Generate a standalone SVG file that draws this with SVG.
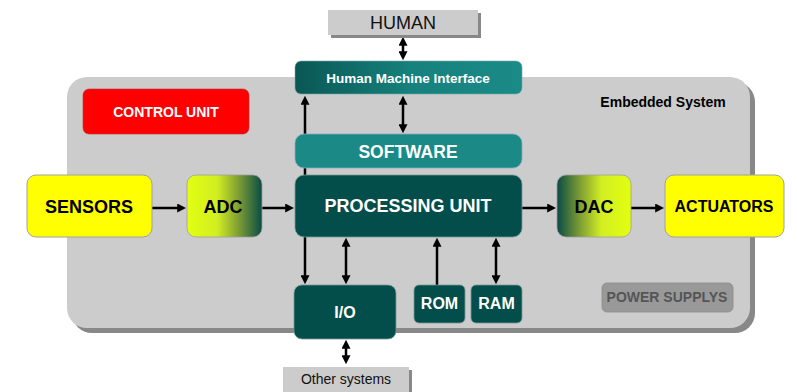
<svg xmlns="http://www.w3.org/2000/svg" width="797" height="392" viewBox="0 0 797 392">
  <style>
    text { font-family: "Liberation Sans", Arial, sans-serif; text-anchor: middle; }
    .b { font-weight: bold; }
    .w { fill: #ffffff; }
    .k { fill: #000000; }
    .dark { fill: #034d4a; stroke: #7a9a98; stroke-width: 0.8; }
    .teal { fill: #1b8a86; stroke: #8ab; stroke-width: 0.8; }
    .yellow { fill: #ffff00; stroke: #a0a0a0; stroke-width: 1; }
    .grey { fill: #cccccc; }
    .shadow { fill: #888888; }
    .link { stroke: #000; stroke-width: 2.5; fill: none; }
  </style>
  <defs>
    <marker id="ah" viewBox="0 0 10 10" refX="2" refY="5" markerWidth="9" markerHeight="9" markerUnits="userSpaceOnUse" orient="auto-start-reverse">
      <path d="M0,0 L10,5 L0,10 z" fill="#000"/>
    </marker>
    <linearGradient id="hmiGrad" x1="0" y1="0" x2="1" y2="0">
      <stop offset="0" stop-color="#0a5754"/>
      <stop offset="0.5" stop-color="#16807c"/>
      <stop offset="1" stop-color="#1b8b88"/>
    </linearGradient>
    <linearGradient id="adcGrad" x1="0" y1="0" x2="1" y2="0">
      <stop offset="0" stop-color="#e2ff10"/>
      <stop offset="0.4" stop-color="#d2ee22"/>
      <stop offset="0.7" stop-color="#7a9a35"/>
      <stop offset="1" stop-color="#084c45"/>
    </linearGradient>
    <linearGradient id="dacGrad" x1="1" y1="0" x2="0" y2="0">
      <stop offset="0" stop-color="#e2ff10"/>
      <stop offset="0.4" stop-color="#d2ee22"/>
      <stop offset="0.7" stop-color="#7a9a35"/>
      <stop offset="1" stop-color="#084c45"/>
    </linearGradient>
  </defs>

  <!-- embedded system frame -->
  <g id="embedded-system">
    <rect class="shadow" x="72" y="82" width="683" height="251" rx="20"/>
    <rect class="grey" x="67" y="77" width="683" height="251" rx="20"/>
    <text class="b k" x="663" y="106.5" font-size="14">Embedded System</text>
  </g>

  <!-- connectors -->
  <g id="connectors">
    <line class="link" x1="403" y1="44" x2="403" y2="53" marker-start="url(#ah)" marker-end="url(#ah)"/>
    <line class="link" x1="305" y1="175" x2="305" y2="103" marker-end="url(#ah)"/>
    <line class="link" x1="403" y1="103" x2="403" y2="126" marker-start="url(#ah)" marker-end="url(#ah)"/>
    <line class="link" x1="152" y1="208" x2="179" y2="208" marker-end="url(#ah)"/>
    <line class="link" x1="262" y1="208" x2="287" y2="208" marker-end="url(#ah)"/>
    <line class="link" x1="522" y1="208" x2="549" y2="208" marker-end="url(#ah)"/>
    <line class="link" x1="631" y1="208" x2="657" y2="208" marker-end="url(#ah)"/>
    <line class="link" x1="305" y1="237" x2="305" y2="277" marker-end="url(#ah)"/>
    <line class="link" x1="346" y1="245" x2="346" y2="277" marker-start="url(#ah)" marker-end="url(#ah)"/>
    <line class="link" x1="437" y1="285" x2="437" y2="245" marker-end="url(#ah)"/>
    <line class="link" x1="496" y1="245" x2="496" y2="277" marker-start="url(#ah)" marker-end="url(#ah)"/>
    <line class="link" x1="346" y1="347" x2="346" y2="357" marker-start="url(#ah)" marker-end="url(#ah)"/>
  </g>

  <g id="human">
    <rect class="shadow" x="331" y="13" width="150" height="25"/>
    <rect class="grey" x="328" y="10" width="150" height="25"/>
    <text x="403" y="29" font-size="18" fill="#111">HUMAN</text>
  </g>

  <g id="hmi">
    <rect x="295" y="61" width="227" height="33" rx="6" fill="url(#hmiGrad)" stroke="#7aa" stroke-width="0.6"/>
    <text class="b w" x="408" y="83" font-size="13.5">Human Machine Interface</text>
  </g>

  <g id="control-unit">
    <rect x="83" y="89" width="166" height="45" rx="6" fill="#ff0000" stroke="#b33" stroke-width="0.6"/>
    <text class="b w" x="166" y="116.7" font-size="14">CONTROL UNIT</text>
  </g>

  <g id="software">
    <rect class="teal" x="295" y="134" width="227" height="34" rx="9"/>
    <text class="b w" x="408" y="158" font-size="17.5">SOFTWARE</text>
  </g>

  <g id="processing-unit">
    <rect class="dark" x="295" y="175" width="227" height="62" rx="9"/>
    <text class="b w" x="408" y="212" font-size="18">PROCESSING UNIT</text>
  </g>

  <g id="sensors">
    <rect class="yellow" x="27" y="175" width="125" height="62" rx="9"/>
    <text class="b k" x="89" y="212.5" font-size="18">SENSORS</text>
  </g>

  <g id="adc">
    <rect x="187" y="175" width="75" height="62" rx="9" fill="url(#adcGrad)" stroke="#a0a0a0" stroke-width="0.8"/>
    <text class="b k" x="223" y="212.5" font-size="18">ADC</text>
  </g>

  <g id="dac">
    <rect x="557" y="175" width="74" height="62" rx="9" fill="url(#dacGrad)" stroke="#a0a0a0" stroke-width="0.8"/>
    <text class="b k" x="594" y="212.5" font-size="18">DAC</text>
  </g>

  <g id="actuators">
    <rect class="yellow" x="665" y="175" width="119" height="62" rx="9"/>
    <text class="b k" x="724" y="211.5" font-size="16">ACTUATORS</text>
  </g>

  <g id="io">
    <rect class="dark" x="294" y="285" width="102" height="54" rx="8"/>
    <text class="b w" x="345" y="317.5" font-size="16">I/O</text>
  </g>

  <g id="rom">
    <rect class="dark" x="414" y="285" width="51" height="38" rx="5"/>
    <text class="b w" x="439.5" y="309" font-size="16">ROM</text>
  </g>

  <g id="ram">
    <rect class="dark" x="471" y="285" width="51" height="38" rx="5"/>
    <text class="b w" x="496.5" y="309" font-size="16">RAM</text>
  </g>

  <g id="power-supplys">
    <rect x="602" y="283" width="131" height="29" rx="5" fill="#999999" stroke="#8a8a8a" stroke-width="0.8"/>
    <text class="b" x="667" y="301.7" font-size="14" fill="#555555">POWER SUPPLYS</text>
  </g>

  <g id="other-systems">
    <rect class="shadow" x="286" y="370" width="126" height="25"/>
    <rect class="grey" x="283" y="367" width="126" height="25"/>
    <text x="346" y="384.3" font-size="14" fill="#111">Other systems</text>
  </g>
</svg>
